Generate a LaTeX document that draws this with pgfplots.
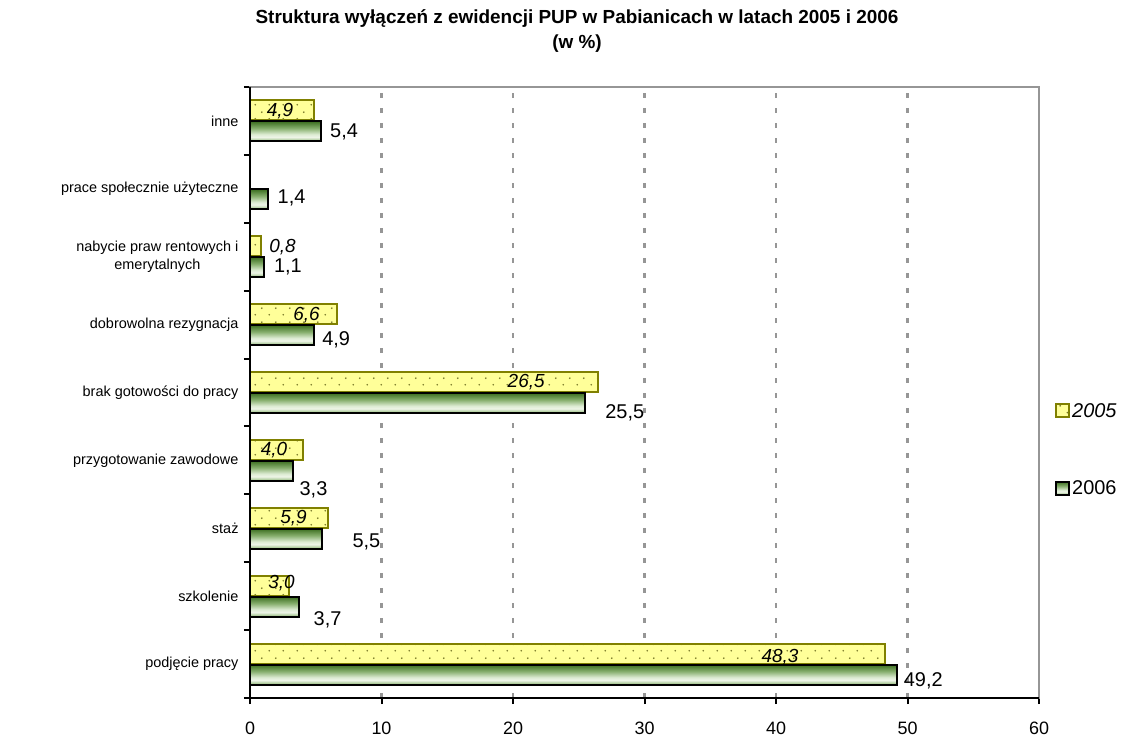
\documentclass[border=0pt]{standalone}
\usepackage{pgfplots}
\pgfplotsset{compat=1.18}
\usepackage{pgfplotstable}
\usepackage{fontspec}
\setmainfont{Liberation Sans}
\usetikzlibrary{patterns.meta}

\definecolor{yel}{RGB}{255,255,153}
\definecolor{olv}{RGB}{128,128,0}
\definecolor{dotc}{RGB}{120,120,40}
\definecolor{gtop}{RGB}{60,110,32}
\definecolor{gupper}{RGB}{135,175,110}
\definecolor{gmid}{RGB}{220,235,210}
\definecolor{glight}{RGB}{238,245,232}
\definecolor{gbot}{RGB}{140,182,115}
\definecolor{gridc}{RGB}{150,150,150}

% bottom of the bar = 25bp, top = 75bp
\pgfdeclareverticalshading{gbar}{100bp}{color(0bp)=(gbot); color(25bp)=(gbot);
  color(36bp)=(glight); color(43bp)=(gmid); color(58bp)=(gupper);
  color(75bp)=(gtop); color(100bp)=(gtop)}

\tikzdeclarepattern{
  name=sparsedots,
  type=uncolored,
  bounding box={(0bp,0bp) and (14bp,14bp)},
  tile size={(14bp,14bp)},
  code={\fill (3.5bp,3.5bp) circle (1bp); \fill (10.5bp,10.5bp) circle (1bp);}
}

\pgfplotsset{
  sqlegend/.style={legend image code/.code={\draw[##1] (0bp,-6.5bp) rectangle (13bp,6.5bp);}},
  g06/.style={xbar, bar width=20bp, bar shift=-10.5bp, draw=black, line width=2bp,
    shade, shading=gbar, sqlegend},
}

\newcommand{\fs}[2]{\fontsize{#1}{#2}\selectfont}

% 2005: value, category
\pgfplotstableread{
x y
48.3 0
3.0 1
5.9 2
4.0 3
26.5 4
6.6 5
0.8 6
4.9 8
}\tabA

% label positions
\pgfplotstableread{
x y lab
40.3 0.10 48,3
2.4 1.19 3,0
3.31 2.15 5,9
1.82 3.15 4,0
21.0 4.15 26,5
4.3 5.14 6,6
2.47 6.14 0,8
2.28 8.145 4,9
}\labA

\pgfplotstableread{
x y lab
51.2 -0.25 49,2
5.9 0.65 3,7
8.85 1.80 5,5
4.83 2.56 3,3
28.5 3.70 25,5
6.55 4.77 4,9
2.88 5.85 1,1
3.16 6.86 1,4
7.15 7.84 5,4
}\labB

\begin{document}
\begin{tikzpicture}
\path[use as bounding box] (0bp,0bp) rectangle (1124bp,738bp);
\begin{axis}[
    at={(250bp,40bp)}, anchor=south west,
    scale only axis,
    width=789bp, height=611bp,
    xmin=0, xmax=60, ymin=-0.5, ymax=8.5,
    xtick={0,10,...,60},
    ytick={0,...,8},
    yticklabels={podjęcie pracy, szkolenie, staż, przygotowanie zawodowe,
      brak gotowości do pracy, dobrowolna rezygnacja,
      {nabycie praw rentowych i\\emerytalnych},
      prace społecznie użyteczne, inne},
    minor ytick={-0.5,0.5,...,8.5},
    tick align=outside,
    tick pos=left,
    major tick length=6bp,
    minor tick length=6bp,
    tick style={black, line width=2bp},
    major y tick style={draw=none},
    xmajorgrids,
    major x grid style={gridc, line width=2.5bp, dash pattern=on 5bp off 10bp},
    axis line style={gridc, line width=2bp},
    /pgf/number format/assume math mode=true,
    xticklabel style={font=\fs{18}{22}, yshift=-14bp},
    yticklabel style={font=\fs{14.5}{18}, align=center, xshift=-2bp},
    legend style={draw=none, fill=none, inner sep=0pt,
      at={(rel axis cs:1.0203,0.4067)}, anchor=west,
      font=\fs{20}{24}, row sep=58bp},
    legend cell align=left,
    after end axis/.code={
      \draw[black, line width=2bp] (rel axis cs:0,1) -- (rel axis cs:0,0) -- (rel axis cs:1,0);
    },
]
\addplot[xbar, bar width=20bp, bar shift=10.5bp, fill=yel, draw=olv, line width=2bp,
  postaction={pattern=sparsedots, pattern color=dotc}, sqlegend]
  table {\tabA};
% 2006, one bar per path so each gets its own shading
\addplot[g06] coordinates {(49.2,0)};
\addplot[g06, forget plot] coordinates {(3.7,1)};
\addplot[g06, forget plot] coordinates {(5.5,2)};
\addplot[g06, forget plot] coordinates {(3.3,3)};
\addplot[g06, forget plot] coordinates {(25.5,4)};
\addplot[g06, forget plot] coordinates {(4.9,5)};
\addplot[g06, forget plot] coordinates {(1.1,6)};
\addplot[g06, forget plot] coordinates {(1.4,7)};
\addplot[g06, forget plot] coordinates {(5.4,8)};
\addplot[draw=none, mark=none, forget plot, nodes near coords,
  point meta=explicit symbolic,
  nodes near coords style={anchor=center, text=black, font=\fs{19}{23}\itshape}]
  table[meta=lab] {\labA};
\addplot[draw=none, mark=none, forget plot, nodes near coords,
  point meta=explicit symbolic,
  nodes near coords style={anchor=center, text=black, font=\fs{20}{24}}]
  table[meta=lab] {\labB};
\legend{\textit{2005}, 2006}
\end{axis}
\node[font={\bfseries\fs{19}{25}}, align=center] at (577bp,707bp)
  {Struktura wyłączeń z ewidencji PUP w Pabianicach w latach 2005 i 2006\\(w \%)};
\end{tikzpicture}
\end{document}
